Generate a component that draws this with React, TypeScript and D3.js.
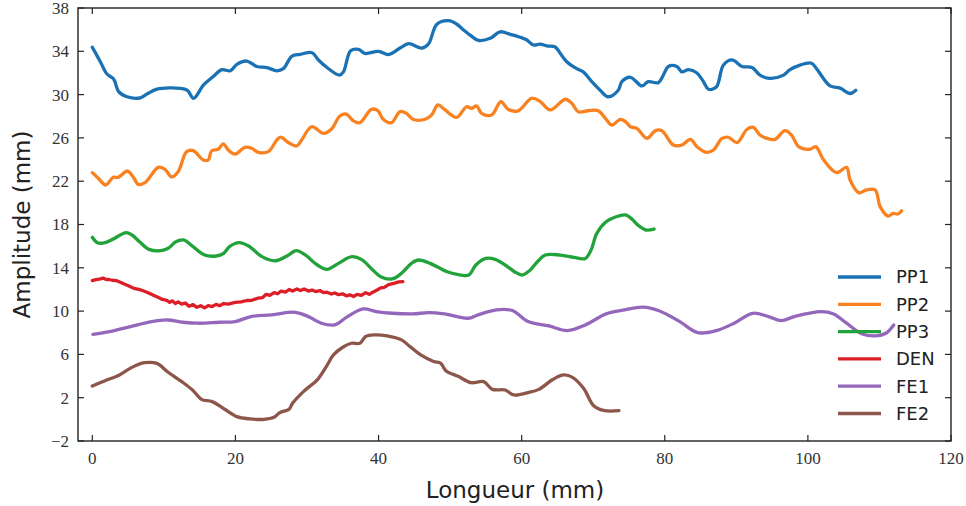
import React from "react";
import * as d3 from "d3";

// Amplitude profiles (mm) along the length (mm) of each specimen
const PP1: [number, number][] = [
  [0, 34.37], [1.12, 33.04], [2.05, 31.9], [2.98, 31.44], [3.68, 30.27], [4.84, 29.8], [6.7, 29.7],
  [7.64, 30.05], [9.04, 30.5], [12.3, 30.58], [13.3, 30.4], [14.15, 29.66], [15.55, 30.9], [16.95, 31.7],
  [18.1, 32.3], [19.3, 32.2], [20.2, 32.8], [21.6, 33.1], [23.0, 32.6], [24.4, 32.5], [25.8, 32.2],
  [26.7, 32.4], [27.9, 33.56], [29.06, 33.72], [30.7, 33.87], [31.6, 33.2], [32.8, 32.5], [34.55, 31.8],
  [35.1, 32.1], [36.1, 34.05], [37.2, 34.18], [38.1, 33.8], [40.0, 34.0], [41.4, 33.7], [43.0, 34.3],
  [44.2, 34.7], [46.06, 34.3], [47.0, 34.7], [48.15, 36.5], [49.8, 36.83], [50.95, 36.5], [51.65, 36.1],
  [52.8, 35.5], [53.97, 35.0], [55.6, 35.2], [57.0, 35.8], [58.4, 35.57], [59.8, 35.3], [60.73, 35.04],
  [61.65, 34.58], [62.6, 34.67], [63.5, 34.5], [64.7, 34.4], [65.4, 33.8], [66.3, 33.04], [67.7, 32.4],
  [68.6, 32.1], [69.8, 31.2], [70.97, 30.4], [72.1, 29.8], [73.5, 30.4], [74.0, 31.2], [75.2, 31.6],
  [76.8, 30.8], [77.7, 31.2], [79.1, 31.1], [79.8, 31.8], [80.5, 32.6], [81.7, 32.6], [82.4, 32.1],
  [83.3, 32.3], [84.5, 32.0], [85.4, 31.2], [86.1, 30.5], [87.2, 30.7], [88.2, 32.73], [89.4, 33.2],
  [90.8, 32.6], [92.2, 32.5], [93.3, 31.8], [94.7, 31.5], [96.6, 31.8], [97.5, 32.3], [98.9, 32.73],
  [100.5, 32.9], [101.2, 32.4], [103.1, 30.8], [104.5, 30.6], [105.9, 30.1], [106.7, 30.4],
];

const PP2: [number, number][] = [
  [0, 22.79], [0.84, 22.27], [1.86, 21.65], [2.93, 22.36], [3.63, 22.36], [4.93, 22.94], [5.73, 22.36],
  [6.43, 21.7], [7.36, 21.86], [9.22, 23.28], [10.15, 23.1], [11.08, 22.4], [12.0, 22.88], [13.18, 24.73],
  [14.1, 24.82], [15.5, 23.96], [16.2, 23.96], [16.67, 24.8], [17.6, 24.95], [18.3, 25.44], [19.0, 24.88],
  [19.93, 24.5], [21.33, 25.13], [22.25, 25.04], [23.2, 24.67], [24.6, 24.73], [26.2, 26.06], [27.4, 25.57],
  [28.55, 25.25], [29.25, 25.8], [30.65, 27.03], [32.3, 26.42], [33.4, 26.8], [34.6, 28.02], [35.5, 28.2],
  [36.45, 27.59], [37.4, 27.4], [39.0, 28.64], [39.9, 28.52], [40.65, 27.72], [41.8, 27.4], [43.0, 28.43],
  [43.9, 28.27], [44.8, 27.72], [46.5, 27.72], [47.4, 28.1], [48.3, 29.04], [49.3, 28.58], [50.9, 27.9],
  [52.3, 28.88], [53.0, 28.73], [53.7, 28.95], [54.4, 28.27], [55.8, 28.12], [57.1, 29.35], [58.1, 28.64],
  [59.5, 28.5], [61.4, 29.66], [62.6, 29.35], [64.0, 28.58], [66.1, 29.57], [67.0, 29.2], [67.9, 28.42],
  [69.3, 28.51], [70.7, 28.51], [71.7, 27.81], [72.6, 27.19], [73.8, 27.72], [74.5, 27.5], [75.2, 27.03],
  [76.1, 26.88], [77.5, 25.96], [78.7, 26.67], [79.6, 26.67], [81.2, 25.34], [82.4, 25.34], [83.6, 25.87],
  [84.5, 25.19], [85.8, 24.67], [86.8, 24.88], [88.0, 25.96], [88.9, 26.06], [90.1, 25.57], [91.5, 26.8],
  [92.4, 26.97], [93.3, 26.27], [94.3, 25.96], [95.4, 25.87], [96.8, 26.67], [97.7, 26.27], [98.7, 25.19],
  [100.3, 24.95], [101.1, 25.19], [102.2, 23.96], [104.0, 22.79], [105.4, 23.28], [105.9, 22.11],
  [107.1, 20.94], [108.2, 21.19], [109.4, 21.19], [110.1, 19.65], [111.2, 18.78], [111.9, 19.03],
  [112.6, 18.97], [113.1, 19.27],
];

const PP3: [number, number][] = [
  [0, 16.82], [0.71, 16.32], [1.79, 16.32], [2.85, 16.63], [4.72, 17.25], [5.53, 17.03], [6.6, 16.41],
  [7.93, 15.7], [9.54, 15.58], [10.6, 15.8], [11.68, 16.41], [12.74, 16.57], [14.08, 15.95], [15.69, 15.18],
  [17.3, 15.09], [18.36, 15.34], [19.17, 15.95], [20.5, 16.32], [21.84, 16.01], [23.71, 15.03],
  [25.58, 14.65], [27.19, 15.09], [28.5, 15.58], [29.6, 15.27], [31.46, 14.26], [32.8, 13.86],
  [34.4, 14.41], [36.27, 15.03], [37.6, 14.78], [39.2, 13.8], [40.3, 13.18], [41.9, 12.97], [43.2, 13.49],
  [44.6, 14.41], [45.6, 14.72], [47.2, 14.41], [48.6, 13.95], [49.6, 13.64], [51.5, 13.33], [52.6, 13.33],
  [53.6, 14.26], [55.0, 14.87], [56.3, 14.78], [57.7, 14.26], [59.0, 13.64], [60.06, 13.33], [61.1, 13.73],
  [62.2, 14.56], [63.3, 15.18], [65.4, 15.18], [67.3, 14.97], [68.9, 14.87], [69.7, 15.64], [70.5, 17.18],
  [71.8, 18.26], [73.2, 18.72], [74.5, 18.88], [75.3, 18.57], [76.4, 17.86], [77.4, 17.49], [78.5, 17.58],
];

const DEN: [number, number][] = [
  [0, 12.81], [0.5, 12.9], [1.0, 12.95], [1.5, 13.05], [2.0, 12.9], [2.3, 12.92], [2.8, 12.85],
  [3.4, 12.81], [4.0, 12.65], [4.46, 12.5], [5.2, 12.3], [5.8, 12.1], [6.5, 12.0], [7.1, 11.88],
  [7.8, 11.7], [8.47, 11.48], [9.1, 11.3], [9.8, 11.08], [10.4, 11.0], [10.8, 10.8], [11.15, 10.95],
  [11.6, 10.7], [12.0, 10.85], [12.48, 10.65], [13.0, 10.75], [13.5, 10.45], [14.08, 10.6], [14.6, 10.35],
  [15.15, 10.5], [15.7, 10.3], [16.2, 10.5], [16.76, 10.42], [17.3, 10.62], [17.8, 10.5], [18.36, 10.7],
  [19.0, 10.65], [19.97, 10.8], [20.8, 10.85], [21.58, 10.98], [22.3, 11.0], [23.18, 11.2], [23.8, 11.25],
  [24.3, 11.55], [24.8, 11.45], [25.4, 11.7], [25.9, 11.6], [26.38, 11.85], [27.0, 11.75], [27.5, 12.0],
  [27.98, 11.85], [28.6, 12.05], [29.1, 11.9], [29.6, 12.05], [30.2, 11.85], [30.7, 11.95], [31.2, 11.8],
  [31.8, 11.9], [32.3, 11.7], [32.8, 11.75], [33.4, 11.58], [33.9, 11.68], [34.4, 11.52], [35.0, 11.6],
  [35.5, 11.4], [36.0, 11.5], [36.5, 11.35], [37.0, 11.55], [37.6, 11.45], [38.2, 11.7], [38.7, 11.55],
  [39.2, 11.75], [39.8, 11.95], [40.3, 12.15], [40.8, 12.2], [41.4, 12.45], [42.15, 12.56], [42.8, 12.7],
  [43.4, 12.72],
];

const FE1: [number, number][] = [
  [0.08, 7.86], [2.43, 8.1], [5.35, 8.57], [8.27, 9.03], [10.46, 9.18], [12.66, 8.97], [14.85, 8.88],
  [17.77, 8.97], [19.96, 9.03], [22.16, 9.49], [25.08, 9.65], [28.37, 9.89], [30.2, 9.49], [32.02, 8.88],
  [33.85, 8.72], [35.67, 9.49], [37.86, 10.2], [39.7, 9.95], [41.9, 9.8], [44.8, 9.74], [47.0, 9.86],
  [49.2, 9.74], [52.5, 9.34], [53.9, 9.65], [56.5, 10.11], [58.7, 10.05], [60.9, 9.03], [63.8, 8.63],
  [66.4, 8.2], [68.9, 8.72], [71.8, 9.74], [74.4, 10.11], [76.95, 10.36], [79.1, 10.05], [82.1, 9.03],
  [84.6, 8.01], [87.2, 8.2], [89.7, 8.88], [92.3, 9.8], [94.5, 9.49], [96.3, 9.12], [98.1, 9.49],
  [101.8, 9.95], [103.6, 9.74], [105.4, 8.88], [107.6, 7.89], [109.5, 7.71], [110.9, 7.95], [112.0, 8.72],
];

const FE2: [number, number][] = [
  [0, 3.08], [1.79, 3.57], [3.79, 4.1], [5.53, 4.8], [7.28, 5.23], [9.02, 5.17], [10.5, 4.4], [12.5, 3.48],
  [14.0, 2.71], [15.26, 1.85], [16.75, 1.64], [18.5, 0.93], [20.2, 0.25], [22.0, 0.04], [24.0, 0.0],
  [25.4, 0.19], [26.2, 0.62], [27.5, 0.93], [27.98, 1.48], [29.5, 2.56], [31.5, 3.7], [32.7, 4.87],
  [33.7, 5.95], [35.0, 6.66], [36.2, 7.03], [37.4, 7.03], [38.2, 7.65], [39.45, 7.8], [41.2, 7.71],
  [43.2, 7.34], [44.4, 6.72], [45.9, 5.95], [47.7, 5.34], [48.7, 5.18], [49.4, 4.5], [51.2, 3.95],
  [52.9, 3.39], [54.7, 3.48], [55.9, 2.77], [57.7, 2.71], [58.9, 2.25], [60.9, 2.47], [62.4, 2.77],
  [64.4, 3.7], [65.9, 4.1], [67.1, 3.88], [68.65, 2.87], [70.1, 1.23], [71.6, 0.8], [73.6, 0.8],
];

const SERIES_NAMES = ["PP1", "PP2", "PP3", "DEN", "FE1", "FE2"];
const SERIES_DATA = [PP1, PP2, PP3, DEN, FE1, FE2];
const COLORS = ["#1a72b4", "#f98120", "#22a23a", "#dc1f26", "#9467bd", "#8c564b"];
const X_TICKS = [0, 20, 40, 60, 80, 100, 120];
const Y_TICKS = [-2, 2, 6, 10, 14, 18, 22, 26, 30, 34, 38];

const W = 966;
const H = 506;
const M = { left: 78, right: 951, top: 8, bottom: 441 };

export default function App() {
  const x = d3.scaleLinear().domain([-2, 120]).range([M.left, M.right]);
  const y = d3.scaleLinear().domain([-2, 38]).range([M.bottom, M.top]);

  const smooth = d3
    .line<[number, number]>()
    .x((d) => x(d[0]))
    .y((d) => y(d[1]))
    .curve(d3.curveCatmullRom.alpha(0.5));
  const straight = d3
    .line<[number, number]>()
    .x((d) => x(d[0]))
    .y((d) => y(d[1]));

  const tickLen = 6;
  const axisColor = "#222";
  const fmt = (v: number) => (v < 0 ? "\u2212" + Math.abs(v) : String(v));
  const serif = "'Liberation Serif', 'DejaVu Serif', serif";
  const sans = "'DejaVu Sans', sans-serif";

  return (
    <svg
      width={W}
      height={H}
      viewBox={`0 0 ${W} ${H}`}
      style={{ position: "absolute", left: 0, top: 0, background: "#fff" }}
    >
      <defs>
        <clipPath id="plot-area">
          <rect x={M.left} y={M.top} width={M.right - M.left} height={M.bottom - M.top} />
        </clipPath>
      </defs>

      <g clipPath="url(#plot-area)">
        {SERIES_DATA.map((data, i) => (
          <path
            key={SERIES_NAMES[i]}
            d={(SERIES_NAMES[i] === "DEN" ? straight : smooth)(data) || ""}
            fill="none"
            stroke={COLORS[i]}
            strokeWidth={3.3}
            strokeLinejoin="round"
            strokeLinecap="round"
          />
        ))}
      </g>

      {/* frame */}
      <rect
        x={M.left}
        y={M.top}
        width={M.right - M.left}
        height={M.bottom - M.top}
        fill="none"
        stroke={axisColor}
        strokeWidth={1.4}
      />

      {/* x ticks, inward on bottom and top */}
      {X_TICKS.map((t) => (
        <g key={"x" + t}>
          <line x1={x(t)} x2={x(t)} y1={M.bottom} y2={M.bottom - tickLen} stroke={axisColor} strokeWidth={1.2} />
          <line x1={x(t)} x2={x(t)} y1={M.top} y2={M.top + tickLen} stroke={axisColor} strokeWidth={1.2} />
          <text x={x(t)} y={M.bottom + 23} textAnchor="middle" fontFamily={serif} fontSize={17} fill="#333">
            {fmt(t)}
          </text>
        </g>
      ))}

      {/* y ticks, inward on left and right */}
      {Y_TICKS.map((t) => (
        <g key={"y" + t}>
          <line x1={M.left} x2={M.left + tickLen} y1={y(t)} y2={y(t)} stroke={axisColor} strokeWidth={1.2} />
          <line x1={M.right} x2={M.right - tickLen} y1={y(t)} y2={y(t)} stroke={axisColor} strokeWidth={1.2} />
          <text
            x={M.left - 9}
            y={y(t)}
            dy="0.35em"
            textAnchor="end"
            fontFamily={serif}
            fontSize={17}
            fill="#333"
          >
            {fmt(t)}
          </text>
        </g>
      ))}

      {/* axis titles */}
      <text x={515} y={498} textAnchor="middle" fontFamily={sans} fontSize={23} fill="#222">
        Longueur (mm)
      </text>
      <text
        transform={`translate(30, ${(M.top + M.bottom) / 2}) rotate(-90)`}
        textAnchor="middle"
        fontFamily={sans}
        fontSize={23}
        fill="#222"
      >
        Amplitude (mm)
      </text>

      {/* legend */}
      <g>
        {SERIES_NAMES.map((name, i) => {
          const ly = 277 + i * 27.3;
          return (
            <g key={"lg" + name}>
              <line x1={838} x2={881} y1={ly} y2={ly} stroke={COLORS[i]} strokeWidth={3.3} />
              <text x={896} y={ly} dy="0.36em" fontFamily={sans} fontSize={18} fill="#222">
                {name}
              </text>
            </g>
          );
        })}
      </g>
    </svg>
  );
}
